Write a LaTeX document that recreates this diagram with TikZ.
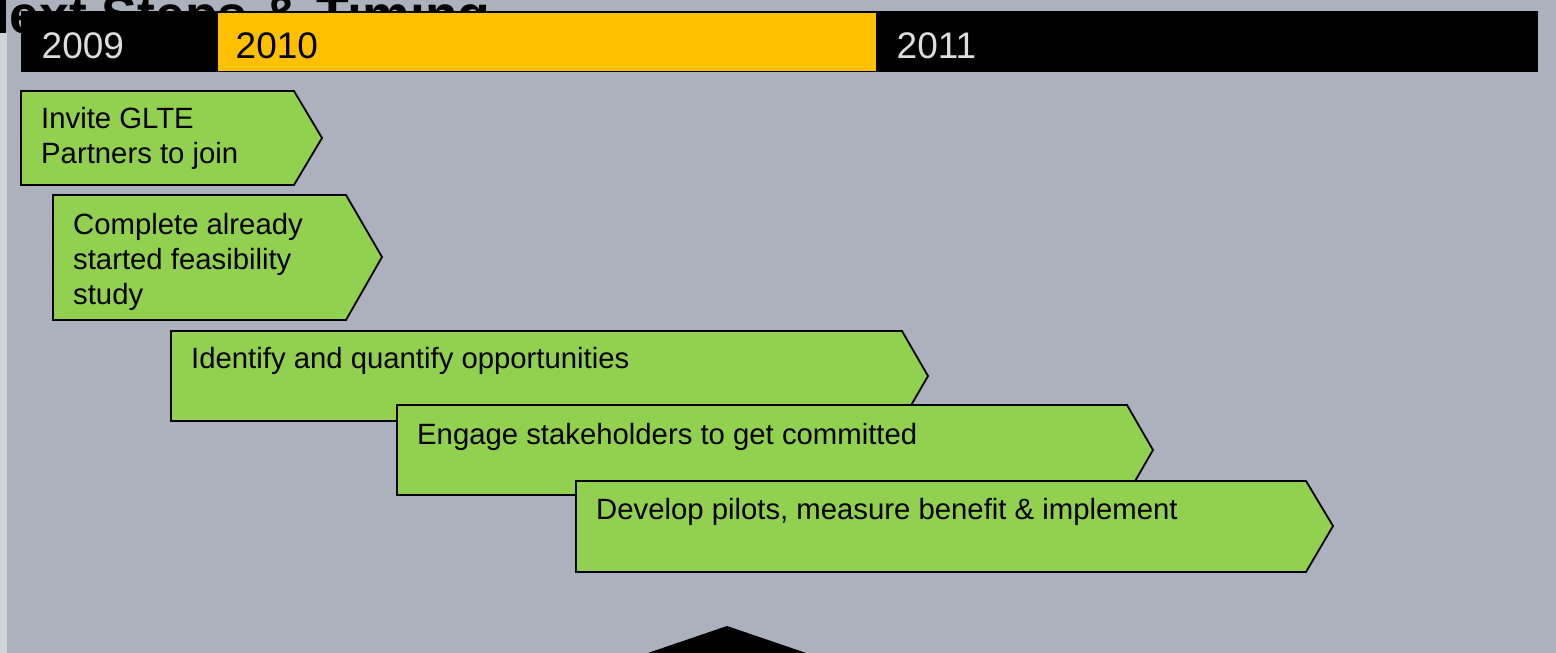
\documentclass[tikz,border=0pt]{standalone}
\usepackage{fontspec}
\setmainfont{Liberation Sans}
\definecolor{bg}{RGB}{171,177,189}
\definecolor{strip}{RGB}{208,211,218}
\definecolor{chgreen}{RGB}{146,208,80}
\definecolor{yellowseg}{RGB}{255,192,0}
\definecolor{ylab}{RGB}{221,221,221}
\tikzset{
  chev/.style={draw=black, line width=1.8pt, fill=chgreen, line join=miter},
  chtext/.style={anchor=base west, inner sep=0pt, font=\fontsize{29.3}{35}\selectfont, text=black},
  yeartext/.style={anchor=base west, inner sep=0pt, font=\fontsize{37}{42}\selectfont},
}
\begin{document}
\begin{tikzpicture}[x=1pt,y=-1pt]
\useasboundingbox (0,0) rectangle (1556,653);
\clip (0,0) rectangle (1556,653);
\fill[bg] (0,0) rectangle (1556,653);
\fill[strip] (0,32) rectangle (7,653);
% title, partly hidden
\node[anchor=base west, inner sep=0pt, font=\fontsize{53.5}{60}\selectfont\bfseries] (title) at (-29,33) {Next Steps \& Timing};
% year bar
\fill[black] (21,11) rectangle (1538,72);
\fill[yellowseg] (218,13) rectangle (876,71);
\node[yeartext, text=ylab] (y2009) at (41.5,58) {2009};
\node[yeartext, text=black] (y2010) at (235.5,58) {2010};
\node[yeartext, text=ylab] (y2011) at (896.5,58) {2011};
% chevrons
\draw[chev] (21,91) -- (294,91) -- (322,138) -- (294,185) -- (21,185) -- cycle;
\node[chtext] (c1a) at (41,128) {Invite GLTE};
\node[chtext] (c1b) at (41,163) {Partners to join};
\draw[chev] (53,195) -- (346,195) -- (382,257) -- (346,320) -- (53,320) -- cycle;
\node[chtext] (c2a) at (73,234) {Complete already};
\node[chtext] (c2b) at (73,269) {started feasibility};
\node[chtext] (c2c) at (73,304) {study};
\draw[chev] (171,331) -- (902,331) -- (928,376) -- (902,421) -- (171,421) -- cycle;
\node[chtext] (c3) at (191,368) {Identify and quantify opportunities};
\draw[chev] (397,405) -- (1127,405) -- (1153,450) -- (1127,495) -- (397,495) -- cycle;
\node[chtext] (c4) at (417,444) {Engage stakeholders to get committed};
\draw[chev] (576,481) -- (1306,481) -- (1333,526) -- (1306,572) -- (576,572) -- cycle;
\node[chtext] (c5) at (596,519) {Develop pilots, measure benefit \& implement};
% bottom marker
\fill[black] (727,626) -- (900,685) -- (554,685) -- cycle;
\end{tikzpicture}
\end{document}
